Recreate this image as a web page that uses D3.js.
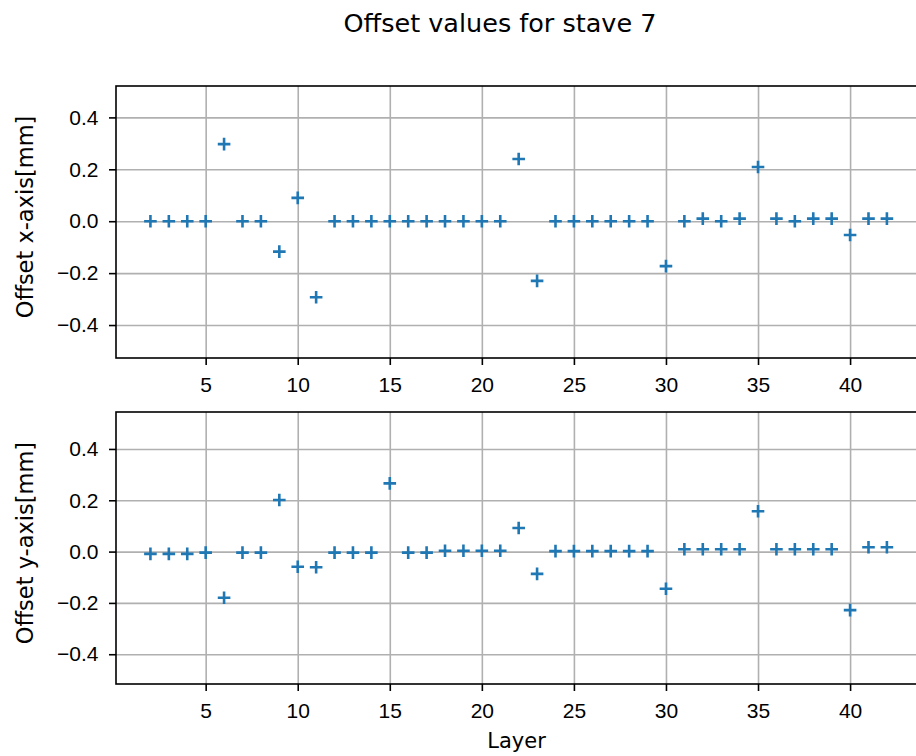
<!DOCTYPE html>
<html>
<head>
<meta charset="utf-8">
<script src="https://cdn.jsdelivr.net/npm/d3@7.9.0/dist/d3.min.js"></script>
<style>
  body { margin: 0; background: #fff; }
  svg { display: block; font-family: "DejaVu Sans", sans-serif; }
  .grid line { stroke: #b0b0b0; stroke-width: 1.6px; }
  .grid path { display: none; }
  .axis path { display: none; }
  .axis line { stroke: #000; stroke-width: 1.6px; }
  .axis text { font-size: 21px; fill: #000; }
</style>
</head>
<body>
<svg id="chart" width="916" height="756"></svg>
<script>
// layer numbers on the x axis
const layers = [2, 3, 4, 5, 6, 7, 8, 9, 10, 11, 12, 13, 14, 15, 16, 17, 18, 19, 20, 21,
    22, 23, 24, 25, 26, 27, 28, 29, 30, 31, 32, 33, 34, 35, 36, 37, 38, 39, 40, 41, 42];

// offsets, in mm
const offsetX = [0, 0, 0, 0, 0.297, 0, 0, -0.117, 0.090, -0.293, 0, 0, 0, 0, 0, 0, 0, 0, 0, 0,
    0.240, -0.230, 0, 0, 0, 0, 0, 0, -0.173, 0, 0.010, 0, 0.010, 0.209, 0.010, 0, 0.010, 0.010, -0.053, 0.010, 0.010];
const offsetY = [-0.009, -0.009, -0.009, -0.004, -0.180, -0.004, -0.004, 0.201, -0.059, -0.061, -0.004, -0.004, -0.004, 0.266, -0.004, -0.004, 0.003, 0.003, 0.003, 0.003,
    0.092, -0.087, 0.002, 0.002, 0.002, 0.002, 0.002, 0.002, -0.145, 0.009, 0.009, 0.009, 0.009, 0.157, 0.009, 0.009, 0.009, 0.009, -0.228, 0.017, 0.017];

const xTicks = [5, 10, 15, 20, 25, 30, 35, 40];
const yTicks = [-0.4, -0.2, 0.0, 0.2, 0.4];

const svg = d3.select('#chart');
const left = 116, right = 916;
const color = '#1f77b4';

let x = d3.scaleLinear().domain([0.13, 43.58]).range([left, right]);

const panels = [
    { label: 'Offset x-axis[mm]', values: offsetX, top: 86, bottom: 358, domain: [-0.527, 0.521] },
    { label: 'Offset y-axis[mm]', values: offsetY, top: 412, bottom: 684, domain: [-0.516, 0.544] },
];

svg.append('text')
    .attr('x', 500)
    .attr('y', 31.5)
    .attr('text-anchor', 'middle')
    .attr('font-size', 25.5)
    .text('Offset values for stave 7');

panels.forEach((p) => {
    let y = d3.scaleLinear().domain(p.domain).range([p.bottom, p.top]);
    let h = p.bottom - p.top;
    let g = svg.append('g');

    // grid
    g.append('g')
        .attr('class', 'grid')
        .attr('transform', `translate(0,${p.bottom})`)
        .call(d3.axisBottom(x).tickValues(xTicks).tickSize(-h).tickFormat(''));
    g.append('g')
        .attr('class', 'grid')
        .attr('transform', `translate(${left},0)`)
        .call(d3.axisLeft(y).tickValues(yTicks).tickSize(-(right - left)).tickFormat(''));

    // markers
    g.selectAll('path.pt')
        .data(layers)
        .join('path')
        .attr('class', 'pt')
        .attr('transform', (d, i) => `translate(${x(d)},${y(p.values[i])})`)
        .attr('d', 'M-6.3,0H6.3M0,-6.3V6.3')
        .attr('stroke', color)
        .attr('stroke-width', 2.6)
        .attr('fill', 'none');

    // axes
    g.append('g')
        .attr('class', 'axis')
        .attr('transform', `translate(0,${p.bottom})`)
        .call(d3.axisBottom(x).tickValues(xTicks).tickSize(7).tickPadding(12).tickFormat(d3.format('d')));
    g.append('g')
        .attr('class', 'axis')
        .attr('transform', `translate(${left},0)`)
        .call(d3.axisLeft(y).tickValues(yTicks).tickSize(7).tickPadding(10.5).tickFormat(d3.format('.1f')));

    // spines
    g.append('rect')
        .attr('x', left)
        .attr('y', p.top)
        .attr('width', right - left + 10)
        .attr('height', h)
        .attr('fill', 'none')
        .attr('stroke', '#000')
        .attr('stroke-width', 1.6);

    g.append('text')
        .attr('transform', `translate(33,${(p.top + p.bottom) / 2 - 5}) rotate(-90)`)
        .attr('text-anchor', 'middle')
        .attr('font-size', 22.5)
        .text(p.label);
});

svg.append('text')
    .attr('x', 516.5)
    .attr('y', 748)
    .attr('text-anchor', 'middle')
    .attr('font-size', 21)
    .text('Layer');
</script>
</body>
</html>
